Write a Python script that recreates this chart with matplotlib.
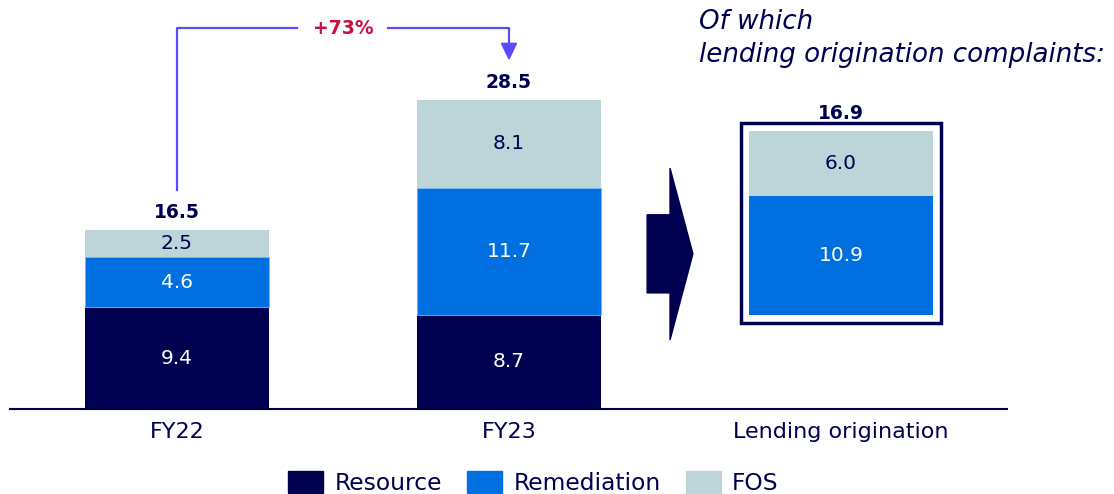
import matplotlib.pyplot as plt
from matplotlib.patches import Patch, Polygon, Rectangle

plt.rcParams['font.family'] = ['DejaVu Sans']

categories = ['FY22', 'FY23', 'Lending origination']
resource = [9.4, 8.7]
remediation = [4.6, 11.7, 10.9]
fos = [2.5, 8.1, 6.0]
totals = [16.5, 28.5, 16.9]
growth_label = '+73%'

navy = '#000050'
blue = '#006FDF'
grey = '#BDD5D8'
purple = '#5B4BFF'
red = '#C8103E'

fig = plt.figure(figsize=(11.14, 4.94), dpi=100)
ax = fig.add_axes([10 / 1114, 85 / 494, 997 / 1114, 409 / 494])
w = 0.555
x = [0, 1, 2]
val_fs = 14.5

# FY22, FY23 stacked bars
for i in range(2):
    ax.bar(x[i], resource[i], w, color=navy)
    ax.bar(x[i], remediation[i], w, bottom=resource[i], color=blue,
           edgecolor='#7FB3EF', linewidth=0.6)
    ax.bar(x[i], fos[i], w, bottom=resource[i] + remediation[i], color=grey)
    ax.text(x[i], resource[i] / 2, f'{resource[i]}', ha='center', va='center',
            color='white', fontsize=val_fs)
    ax.text(x[i], resource[i] + remediation[i] / 2, f'{remediation[i]}',
            ha='center', va='center', color='white', fontsize=val_fs)
    ax.text(x[i], resource[i] + remediation[i] + fos[i] / 2, f'{fos[i]}',
            ha='center', va='center', color=navy, fontsize=val_fs)
    ax.text(x[i], totals[i] + 1.1, f'{totals[i]}', ha='center', va='baseline',
            color=navy, fontsize=13.5, fontweight='bold')

# lending origination bar floats at FY23 resource level
base = resource[1]
ax.bar(x[2], remediation[2], w, bottom=base, color=blue)
ax.bar(x[2], fos[2], w, bottom=base + remediation[2], color=grey)
ax.text(x[2], base + remediation[2] / 2, f'{remediation[2]}', ha='center',
        va='center', color='white', fontsize=val_fs)
ax.text(x[2], base + remediation[2] + fos[2] / 2, f'{fos[2]}', ha='center',
        va='center', color=navy, fontsize=val_fs)
ax.add_patch(Rectangle((x[2] - w / 2 - 0.023, base - 0.77), w + 0.046,
                       remediation[2] + fos[2] + 1.54, fill=False,
                       edgecolor=navy, linewidth=2.5))
ax.text(x[2], base + totals[2] + 1.15, f'{totals[2]}', ha='center',
        va='baseline', color=navy, fontsize=13.5, fontweight='bold')

# arrow between FY23 and lending
ax.add_patch(Polygon([(1.416, 17.9), (1.485, 17.9), (1.485, 22.2), (1.554, 14.3),
                      (1.485, 6.36), (1.485, 10.7), (1.416, 10.7)],
                     closed=True, color=navy))

# growth bracket
top = 35.1
ax.plot([0, 0, 0.361], [totals[0] + 3.7, top, top], color=purple, lw=1.6,
        clip_on=False)
ax.plot([0.636, 1.0, 1.0], [top, top, 33.6], color=purple, lw=1.6,
        clip_on=False)
ax.add_patch(Polygon([(1 - 0.0226, 33.7), (1 + 0.0226, 33.7), (1, 32.26)],
                     closed=True, color=purple, clip_on=False))
ax.text(0.5, top, growth_label, ha='center', va='center', color=red,
        fontsize=13.5, fontweight='bold')

ax.text(1.572, 35.0, 'Of which', ha='left', va='baseline', color=navy,
        fontsize=18.8, style='italic')
ax.text(1.572, 31.98, 'lending origination complaints:', ha='left',
        va='baseline', color=navy, fontsize=18.8, style='italic')

ax.set_xlim(-0.503, 2.5)
ax.set_ylim(0, 409 / 10.85)
ax.set_xticks(x)
ax.set_xticklabels(categories, fontsize=16, color=navy)
ax.tick_params(axis='x', length=0, pad=9)
ax.set_yticks([])
for s in ['top', 'right', 'left']:
    ax.spines[s].set_visible(False)
ax.spines['bottom'].set_color(navy)
ax.spines['bottom'].set_linewidth(1.5)

handles = [Patch(color=navy, label='Resource'),
           Patch(color=blue, label='Remediation'),
           Patch(color=grey, label='FOS')]
fig.legend(handles=handles, loc='center', ncol=3, frameon=False,
           bbox_to_anchor=(0.479, 1 - 483 / 494), fontsize=16.8,
           handlelength=1.5, handleheight=1.1, columnspacing=1.05,
           handletextpad=0.5, labelcolor=navy, borderpad=0)

fig.savefig('out.png', dpi=100)
